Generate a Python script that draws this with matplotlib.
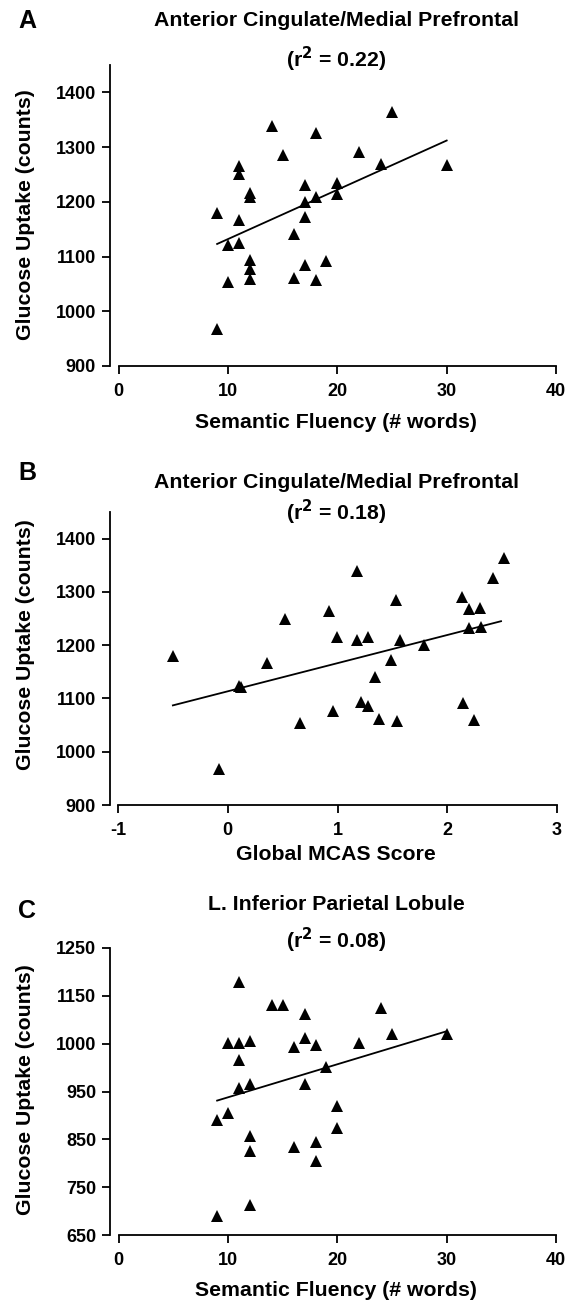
import matplotlib
matplotlib.use("Agg")
import matplotlib.pyplot as plt
from matplotlib.ticker import FixedLocator, FixedFormatter

plt.rcParams['font.family'] = ['Liberation Sans', 'DejaVu Sans']
plt.rcParams['font.weight'] = 'bold'

# Panel A: semantic fluency vs anterior cingulate uptake
fluency_a = [9, 9, 10, 10, 11, 11, 11, 11, 12, 12, 12, 12, 12, 14, 15, 16, 16,
             17, 17, 17, 17, 18, 18, 18, 19, 20, 20, 22, 24, 25, 30]
uptake_a = [1180, 968, 1121, 1053, 1265, 1250, 1166, 1124, 1216, 1209, 1094, 1077, 1059,
            1339, 1285, 1141, 1061, 1230, 1200, 1172, 1085, 1326, 1209, 1058, 1092,
            1235, 1215, 1291, 1270, 1364, 1268]
fit_a_x = [9, 30]
fit_a_y = [1123, 1312]

# Panel B: global MCAS vs anterior cingulate uptake
mcas_b = [-0.50, -0.08, 0.10, 0.12, 0.355, 0.52, 0.66, 0.925, 0.955, 0.995, 1.175, 1.175,
          1.215, 1.28, 1.28, 1.34, 1.38, 1.485, 1.535, 1.545, 1.57, 1.79, 2.13, 2.14,
          2.20, 2.20, 2.24, 2.30, 2.31, 2.42, 2.52]
uptake_b = [1180, 968, 1124, 1121, 1166, 1250, 1053, 1265, 1077, 1216, 1339, 1209,
            1094, 1085, 1215, 1141, 1061, 1172, 1285, 1058, 1209, 1200, 1291, 1092,
            1268, 1232, 1059, 1270, 1235, 1326, 1364]
fit_b_x = [-0.5, 2.49]
fit_b_y = [1087, 1245]

# Panel C: semantic fluency vs L. inferior parietal uptake
fluency_c = [11, 14, 15, 17, 24, 25, 30, 10, 11, 12, 11, 16, 17, 18, 22, 19, 11, 12, 17,
             9, 10, 20, 20, 12, 12, 16, 18, 18, 12, 9]
uptake_c = [1178, 1131, 1130, 1111, 1125, 1070, 1070, 1051, 1051, 1055, 1016, 1042, 1062,
            1048, 1051, 1001, 957, 966, 966, 891, 905, 919, 874, 856, 825, 835, 844, 804,
            712, 689]
fit_c_x = [9, 30]
fit_c_y = [931, 1076]

ticks_flu = [0, 10, 20, 30, 40]
ticks_mcas = [-1, 0, 1, 2, 3]
labels_mcas = ['-1', '0', '1', '2', '3']
ticks_up = [900, 1000, 1100, 1200, 1300, 1400]
ticks_ipl = [650, 750, 850, 950, 1050, 1150, 1250]
labels_ipl = ['650', '750', '850', '950', '1000', '1150', '1250']

W, H = 579, 1305
fig = plt.figure(figsize=(W / 100, H / 100), dpi=100)


def px_axes(left, right, top, bottom):
    return fig.add_axes([left / W, 1 - bottom / H, (right - left) / W, (bottom - top) / H])


def style(ax, xb, yb):
    for s in ['top', 'right']:
        ax.spines[s].set_visible(False)
    ax.spines['left'].set_bounds(*yb)
    ax.spines['bottom'].set_bounds(*xb)
    for s in ['left', 'bottom']:
        ax.spines[s].set_linewidth(1.3)
    ax.tick_params(direction='out', length=6, width=1.3, labelsize=13, pad=4)
    ax.tick_params(axis='x', pad=6)
    for lab in ax.get_xticklabels() + ax.get_yticklabels():
        lab.set_fontweight('bold')


def panel(ax, x, y, fx, fy):
    ax.plot(fx, fy, color='black', lw=1.3, zorder=2)
    ax.plot(x, y, linestyle='none', marker='^', ms=9, color='black', mew=0,
            clip_on=False, zorder=3)


# A
axA = px_axes(110, 556, 65, 366)
panel(axA, fluency_a, uptake_a, fit_a_x, fit_a_y)
axA.set_xlim(-0.8, 40)
axA.set_ylim(900, 1450)
axA.set_xticks(ticks_flu)
axA.set_yticks(ticks_up)
style(axA, (0, 40), (900, 1450))

# B
axB = px_axes(110, 557, 512, 805)
panel(axB, mcas_b, uptake_b, fit_b_x, fit_b_y)
axB.set_xlim(-1.073, 3)
axB.set_ylim(900, 1450)
axB.xaxis.set_major_locator(FixedLocator(ticks_mcas))
axB.xaxis.set_major_formatter(FixedFormatter(labels_mcas))
axB.set_yticks(ticks_up)
style(axB, (-1, 3), (900, 1450))

# C
axC = px_axes(110, 556, 948, 1235)
panel(axC, fluency_c, uptake_c, fit_c_x, fit_c_y)
axC.set_xlim(-0.8, 40)
axC.set_ylim(650, 1250)
axC.set_xticks(ticks_flu)
axC.yaxis.set_major_locator(FixedLocator(ticks_ipl))
axC.yaxis.set_major_formatter(FixedFormatter(labels_ipl))
style(axC, (0, 40), (650, 1250))


def ftext(x, y, s, **kw):
    fig.text(x / W, 1 - y / H, s, ha='center', va='center', fontweight='bold', **kw)


cx = 336
fs = 15.3
ftext(27, 21, 'A', fontsize=18)
ftext(cx, 21, 'Anterior Cingulate/Medial Prefrontal', fontsize=fs)
ftext(cx, 59, r'(r$^{\mathbf{2}}$ = 0.22)', fontsize=fs)
ftext(26, 215, 'Glucose Uptake (counts)', fontsize=fs, rotation=90)
ftext(cx, 423, 'Semantic Fluency (# words)', fontsize=fs)

ftext(27, 473, 'B', fontsize=18)
ftext(cx, 483, 'Anterior Cingulate/Medial Prefrontal', fontsize=fs)
ftext(cx, 512, r'(r$^{\mathbf{2}}$ = 0.18)', fontsize=fs)
ftext(26, 645, 'Glucose Uptake (counts)', fontsize=fs, rotation=90)
ftext(cx, 855, 'Global MCAS Score', fontsize=fs)

ftext(27, 911, 'C', fontsize=18)
ftext(cx, 905, 'L. Inferior Parietal Lobule', fontsize=fs)
ftext(cx, 940, r'(r$^{\mathbf{2}}$ = 0.08)', fontsize=fs)
ftext(26, 1090, 'Glucose Uptake (counts)', fontsize=fs, rotation=90)
ftext(cx, 1290, 'Semantic Fluency (# words)', fontsize=fs)

plt.savefig('out.png', dpi=100)
